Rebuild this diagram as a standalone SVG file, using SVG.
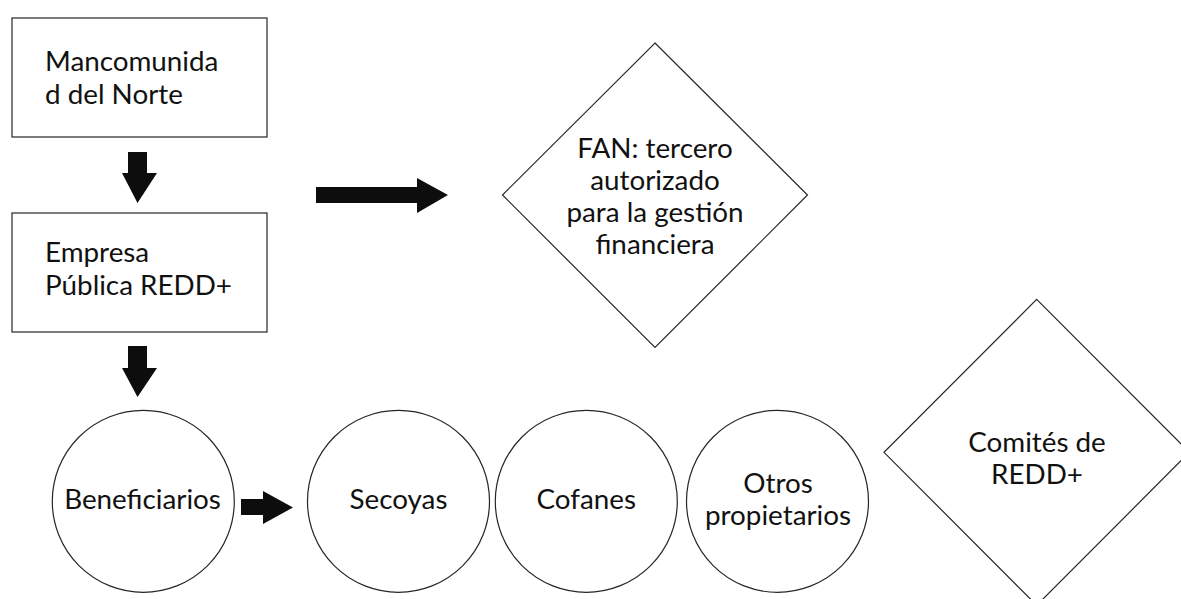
<svg xmlns="http://www.w3.org/2000/svg" width="1181" height="599" viewBox="0 0 1181 599">
<style>
.shape{fill:#ffffff;stroke:#262626;stroke-width:1.2}
.t{font-family:Lato,"Open Sans","Liberation Sans",sans-serif;font-size:27.8px;fill:#111111}
.c{text-anchor:middle}
.arr{fill:#0d0d0d;stroke:none}
</style>
<rect width="1181" height="599" fill="#ffffff"/>
<g id="connectors">
<polygon class="arr" points="128,152 147,152 147,173 157,173 137.5,203 122,173 128,173"/>
<polygon class="arr" points="128,346 147,346 147,368 157,368 137.5,397 122,368 128,368"/>
<polygon class="arr" points="316,187 417,187 417,178 448,195 417,213 417,203 316,203"/>
<polygon class="arr" points="241,499 263,499 263,491 293,507.5 263,524 263,515 241,515"/>
</g>
<g id="mancomunidad">
<rect class="shape" x="12" y="18" width="255" height="119"/>
<text class="t" x="45" y="71">Mancomunida</text>
<text class="t" x="45" y="103.5">d del Norte</text>
</g>
<g id="empresa">
<rect class="shape" x="12" y="213" width="255" height="119"/>
<text class="t" x="45" y="262">Empresa</text>
<text class="t" x="45" y="294.5">Pública REDD+</text>
</g>
<g id="fan">
<polygon class="shape" points="655,43 807.5,195 655,347.5 502.5,195"/>
<text class="t c" x="655" y="157.5">FAN: tercero</text>
<text class="t c" x="655" y="190">autorizado</text>
<text class="t c" x="655" y="222">para la gestión</text>
<text class="t c" x="655" y="254">financiera</text>
</g>
<g id="beneficiarios">
<circle class="shape" cx="143.3" cy="501.3" r="91"/>
<text class="t c" x="142.5" y="509">Beneficiarios</text>
</g>
<g id="secoyas">
<circle class="shape" cx="398.5" cy="501.3" r="91"/>
<text class="t c" x="398.5" y="509">Secoyas</text>
</g>
<g id="cofanes">
<circle class="shape" cx="586.3" cy="501.3" r="91"/>
<text class="t c" x="586.3" y="509">Cofanes</text>
</g>
<g id="otros">
<circle class="shape" cx="777.5" cy="501.3" r="91"/>
<text class="t c" x="778" y="493.3">Otros</text>
<text class="t c" x="778" y="525">propietarios</text>
</g>
<g id="comites">
<polygon class="shape" points="1036.7,299.3 1189.4,452.3 1036.7,605.3 884,452.3"/>
<text class="t c" x="1037" y="451.7">Comités de</text>
<text class="t c" x="1037" y="484">REDD+</text>
</g>
</svg>
